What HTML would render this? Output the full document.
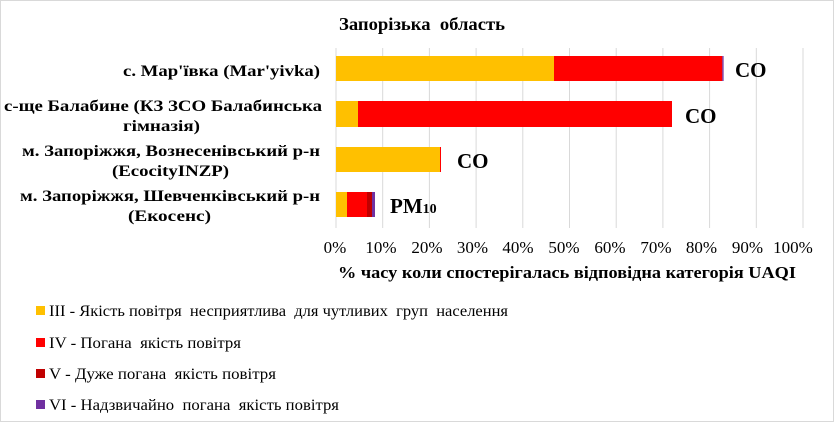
<!DOCTYPE html>
<html><head><style>
body{margin:0;background:#fff}
svg{display:block;font-family:"Liberation Serif",serif}
text{white-space:pre}
</style></head><body>
<svg width="834" height="422" xmlns="http://www.w3.org/2000/svg">
<rect x="0.5" y="0.5" width="833" height="421" fill="#fff" stroke="#d9d9d9"/>
<text x="339" y="30" font-size="18" font-weight="bold" textLength="166" lengthAdjust="spacingAndGlyphs">Запорізька  область</text>
<g stroke="#d9d9d9" stroke-width="1">
<line x1="336" y1="48" x2="336" y2="228"/><line x1="382.7" y1="48" x2="382.7" y2="228"/><line x1="429.4" y1="48" x2="429.4" y2="228"/><line x1="476.1" y1="48" x2="476.1" y2="228"/><line x1="522.8" y1="48" x2="522.8" y2="228"/><line x1="569.5" y1="48" x2="569.5" y2="228"/><line x1="616.2" y1="48" x2="616.2" y2="228"/><line x1="662.9" y1="48" x2="662.9" y2="228"/><line x1="709.6" y1="48" x2="709.6" y2="228"/><line x1="756.3" y1="48" x2="756.3" y2="228"/><line x1="803" y1="48" x2="803" y2="228"/>
</g>
<rect x="336" y="56" width="218" height="25" fill="#ffc000"/><rect x="554" y="56" width="168.3" height="25" fill="#ff0000"/><rect x="722.3" y="56" width="1.3" height="25" fill="#7030a0"/>
<rect x="336" y="101" width="22" height="26" fill="#ffc000"/><rect x="358" y="101" width="314" height="26" fill="#ff0000"/>
<rect x="336" y="147" width="104" height="25" fill="#ffc000"/><rect x="440" y="147" width="1" height="25" fill="#ff0000"/>
<rect x="336" y="192" width="11" height="25" fill="#ffc000"/><rect x="347" y="192" width="20" height="25" fill="#ff0000"/><rect x="367" y="192" width="5" height="25" fill="#c00000"/><rect x="372" y="192" width="3" height="25" fill="#7030a0"/>
<g font-size="21" font-weight="bold">
<text x="735" y="77">CO</text><text x="685" y="123">CO</text><text x="457" y="168">CO</text>
<text x="390" y="213">PM<tspan font-size="14">10</tspan></text>
</g>
<g font-size="16" font-weight="bold" lengthAdjust="spacingAndGlyphs">
<text x="123" y="76" textLength="197" lengthAdjust="spacingAndGlyphs">с. Мар'ївка (Mar'yivka)</text>
<text x="4" y="111" textLength="318" lengthAdjust="spacingAndGlyphs">с-ще Балабине (КЗ ЗСО Балабинська</text>
<text x="123" y="131" textLength="77" lengthAdjust="spacingAndGlyphs">гімназія)</text>
<text x="22" y="156" textLength="298" lengthAdjust="spacingAndGlyphs">м. Запоріжжя, Вознесенівський р-н</text>
<text x="112" y="176" textLength="117" lengthAdjust="spacingAndGlyphs">(EcocityINZP)</text>
<text x="20" y="201" textLength="300" lengthAdjust="spacingAndGlyphs">м. Запоріжжя, Шевченківський р-н</text>
<text x="128" y="221" textLength="83" lengthAdjust="spacingAndGlyphs">(Екосенс)</text>
</g>
<g font-size="17" text-anchor="middle">
<text x="335" y="253">0%</text><text x="381" y="253">10%</text><text x="427" y="253">20%</text><text x="472.5" y="253">30%</text><text x="518" y="253">40%</text><text x="564" y="253">50%</text><text x="610" y="253">60%</text><text x="656" y="253">70%</text><text x="701.5" y="253">80%</text><text x="747.5" y="253">90%</text><text x="793" y="253">100%</text>
</g>
<text x="338" y="278" font-size="17" font-weight="bold" textLength="458" lengthAdjust="spacingAndGlyphs">% часу коли спостерігалась відповідна категорія UAQI</text>
<g font-size="16">
<rect x="36" y="306" width="9" height="9" fill="#ffc000"/><text x="49" y="316" textLength="459" lengthAdjust="spacingAndGlyphs">ІІІ - Якість повітря  несприятлива  для чутливих  груп  населення</text>
<rect x="36" y="338" width="9" height="9" fill="#ff0000"/><text x="49" y="348" textLength="192" lengthAdjust="spacingAndGlyphs">IV - Погана  якість повітря</text>
<rect x="36" y="369" width="9" height="9" fill="#c00000"/><text x="49" y="379" textLength="227" lengthAdjust="spacingAndGlyphs">V - Дуже погана  якість повітря</text>
<rect x="36" y="400" width="9" height="9" fill="#7030a0"/><text x="49" y="410" textLength="290" lengthAdjust="spacingAndGlyphs">VI - Надзвичайно  погана  якість повітря</text>
</g>
</svg>
</body></html>
